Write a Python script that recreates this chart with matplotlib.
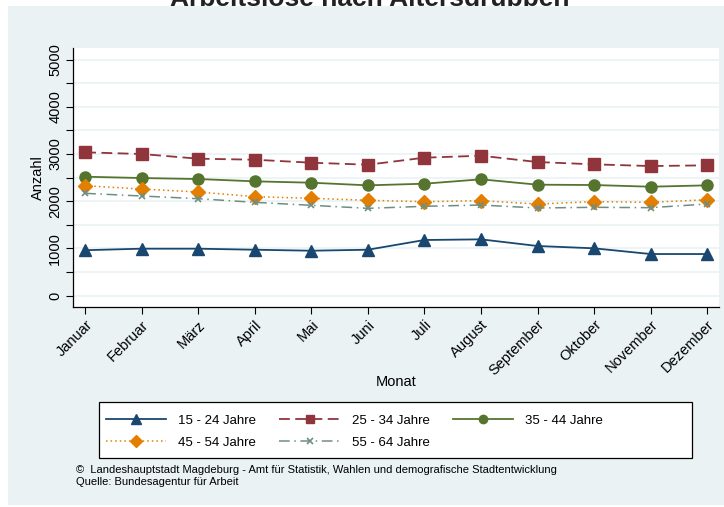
import matplotlib
matplotlib.use("Agg")
import matplotlib.pyplot as plt
from matplotlib.patches import Rectangle

plt.rcParams["font.family"] = ["Liberation Sans", "DejaVu Sans"]

monate = ["Januar", "Februar", "März", "April", "Mai", "Juni", "Juli",
          "August", "September", "Oktober", "November", "Dezember"]

j15_24 = [960, 992, 992, 970, 949, 970, 1176, 1190, 1049, 1000, 879, 879]
j25_34 = [3034, 2998, 2899, 2877, 2814, 2771, 2920, 2962, 2828, 2779, 2743, 2758]
j35_44 = [2517, 2489, 2468, 2419, 2390, 2334, 2369, 2462, 2348, 2341, 2305, 2334]
j45_54 = [2326, 2256, 2193, 2094, 2059, 2017, 1988, 2009, 1939, 1988, 1974, 2030]
j55_64 = [2165, 2108, 2051, 1974, 1911, 1847, 1890, 1917, 1854, 1869, 1861, 1939]

labels = ["15 - 24 Jahre", "25 - 34 Jahre", "35 - 44 Jahre",
          "45 - 54 Jahre", "55 - 64 Jahre"]

W, H = 724, 507
fig = plt.figure(figsize=(W / 100, H / 100), dpi=100, facecolor="white")

# light panel behind everything (covers the lower part of the title)
fig.patches.append(Rectangle((8 / W, 2 / H), 716 / W, 499 / H,
                             transform=fig.transFigure, facecolor="#eaf2f3",
                             edgecolor="none", zorder=-10))
# legend box
fig.patches.append(Rectangle((99 / W, (H - 458) / H), 593 / W, 56 / H,
                             transform=fig.transFigure, facecolor="white",
                             edgecolor="black", lw=0.9, zorder=-5))

ax = fig.add_axes([73.3 / W, (H - 306.7) / H, (719 - 73.3) / W, (306.7 - 48) / H])
ax.set_facecolor("white")

x = range(len(monate))
h1, = ax.plot(x, j15_24, color="#1a476f", lw=1.3, ls="-", marker="^", ms=9)
h2, = ax.plot(x, j25_34, color="#90353b", lw=1.3, ls=(0, (6, 3)), marker="s", ms=8)
h3, = ax.plot(x, j35_44, color="#55752f", lw=1.3, ls="-", marker="o", ms=8)
h4, = ax.plot(x, j45_54, color="#e37e00", lw=1.1, ls=(0, (1, 2)), marker="D", ms=7.5)
h5, = ax.plot(x, j55_64, color="#6e8e84", lw=1.1, ls=(0, (7, 3, 1, 3)), marker="x",
              ms=5, mew=1.2)

ax.set_xlim(-0.21, 11.21)
ax.set_ylim(-237, 5244)
ax.set_yticks(range(0, 5001, 1000))
ax.set_yticks(range(500, 5000, 1000), minor=True)
ax.tick_params(axis="y", which="both", length=5, width=0.8, labelsize=10.5, pad=3)
for t in ax.get_yticklabels():
    t.set_rotation(90)
    t.set_va("center")
ax.grid(True, which="both", axis="y", color="#eaf2f3", lw=1.2)
ax.set_axisbelow(True)

ax.set_xticks(list(x))
ax.set_xticklabels(monate, rotation=45, ha="right", rotation_mode="anchor", fontsize=10.5)
ax.tick_params(axis="x", length=5, width=0.8, pad=3)

for s in ["top", "right"]:
    ax.spines[s].set_visible(False)
for s in ["left", "bottom"]:
    ax.spines[s].set_linewidth(0.9)

ax.set_ylabel("Anzahl", fontsize=10.5, labelpad=2)
fig.text(396 / W, 1 - 382 / H, "Monat", fontsize=10.5, ha="center", va="center")

fig.text(370 / W, 1 - 6 / H, "Arbeitslose nach Altersgruppen", fontsize=19,
         fontweight="bold", ha="center", va="baseline", color="#222222", zorder=-20)

handles = [h1, h4, h2, h5, h3]
leg_labels = [labels[0], labels[3], labels[1], labels[4], labels[2]]
leg = fig.legend(handles, leg_labels, ncol=3, loc="upper left",
                 bbox_to_anchor=(95 / W, (H - 404) / H),
                 fontsize=9.5, handlelength=4.6, handletextpad=0.9,
                 columnspacing=1.75, frameon=False, borderpad=0.3,
                 labelspacing=0.75, markerscale=0.75)

fig.text(76 / W, 1 - 470 / H,
         "©  Landeshauptstadt Magdeburg - Amt für Statistik, Wahlen und demografische Stadtentwicklung",
         fontsize=8, va="center", ha="left")
fig.text(76 / W, 1 - 482 / H, "Quelle: Bundesagentur für Arbeit",
         fontsize=8, va="center", ha="left")

fig.savefig("out.png", dpi=100, facecolor="white")
